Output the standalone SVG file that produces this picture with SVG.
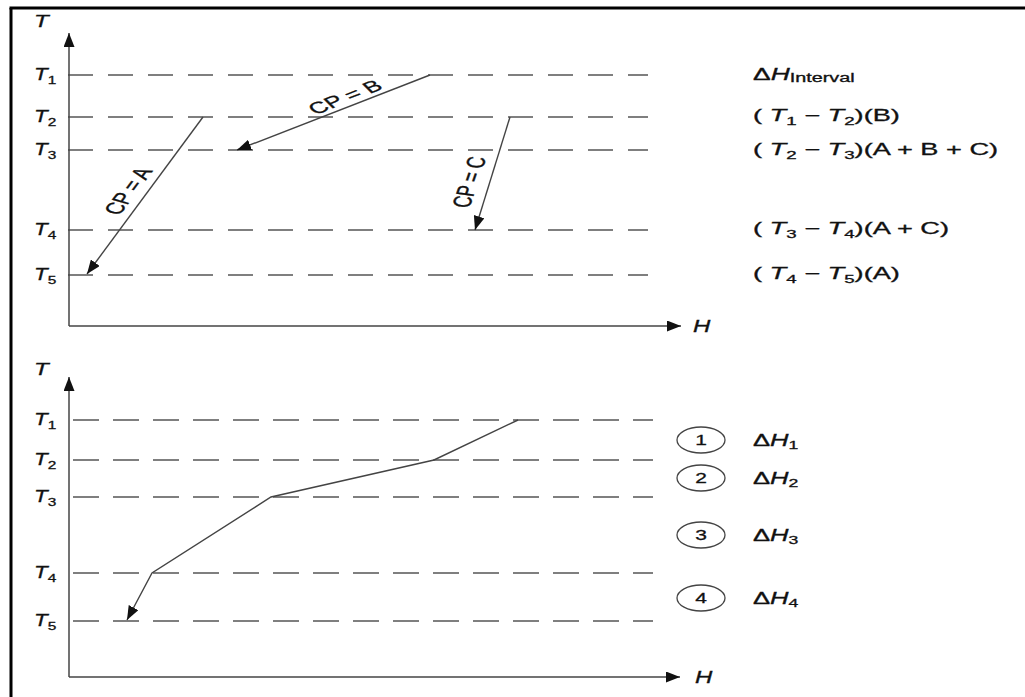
<svg xmlns="http://www.w3.org/2000/svg" width="1025" height="697" viewBox="0 0 1025 697">
<style>
text { font-family: "Liberation Sans", Arial, Helvetica, sans-serif; font-size: 16px; fill: #111; stroke: #111; stroke-width: 0.3; }
.it { font-style: italic; }
.sub { font-size: 11px; }
.cp { font-size: 16px; }
.num { font-size: 15px; text-anchor: middle; }
.dash { stroke: #555; stroke-width: 1.4; fill: none; }
.axis { stroke: #444; stroke-width: 1.5; fill: none; }
.flow { stroke: #444; stroke-width: 1.4; fill: none; }
.border { stroke: #000; stroke-width: 3; }
.circ { fill: #fff; stroke: #444; stroke-width: 1.3; }
</style>
<defs>
<marker id="ah" markerUnits="userSpaceOnUse" markerWidth="15" markerHeight="11" refX="14" refY="5.5" orient="auto">
<path d="M0,0 L14,5.5 L0,11 z" fill="#111"/>
</marker>
</defs>

<g id="frame">
<line class="border" x1="9.5" y1="8" x2="1025" y2="8"/>
<line class="border" x1="11" y1="8" x2="11" y2="697"/>
</g>

<g id="top-chart">
<g id="top-gridlines">
<line class="dash" x1="68" y1="75" x2="648" y2="75" stroke-dasharray="25 15"/>
<line class="dash" x1="68" y1="117" x2="648" y2="117" stroke-dasharray="25 15"/>
<line class="dash" x1="68" y1="150" x2="648" y2="150" stroke-dasharray="25 15"/>
<line class="dash" x1="68" y1="230" x2="648" y2="230" stroke-dasharray="25 15"/>
<line class="dash" x1="68" y1="275" x2="648" y2="275" stroke-dasharray="25 15"/>
</g>
<g id="top-axes">
<line class="axis" x1="69" y1="326" x2="69" y2="33" marker-end="url(#ah)"/>
<line class="axis" x1="69" y1="326" x2="681" y2="326" marker-end="url(#ah)"/>
<text class="it" transform="translate(34,27) scale(1.5 1)">T</text>
<text class="it" transform="translate(693,332) scale(1.5 1)">H</text>
</g>
<g id="top-tlabels">
<text transform="translate(34,80) scale(1.4 1)"><tspan class="it">T</tspan><tspan class="sub" dy="4">1</tspan></text>
<text transform="translate(34,122) scale(1.4 1)"><tspan class="it">T</tspan><tspan class="sub" dy="4">2</tspan></text>
<text transform="translate(34,155) scale(1.4 1)"><tspan class="it">T</tspan><tspan class="sub" dy="4">3</tspan></text>
<text transform="translate(34,235) scale(1.4 1)"><tspan class="it">T</tspan><tspan class="sub" dy="4">4</tspan></text>
<text transform="translate(34,280) scale(1.4 1)"><tspan class="it">T</tspan><tspan class="sub" dy="4">5</tspan></text>
</g>
<g id="top-streams">
<line class="flow" x1="203" y1="117" x2="87" y2="274" marker-end="url(#ah)"/>
<line class="flow" x1="430" y1="75" x2="237" y2="150" marker-end="url(#ah)"/>
<line class="flow" x1="510" y1="117" x2="475" y2="230" marker-end="url(#ah)"/>
<text class="cp" text-anchor="middle" dy="0.35em" transform="translate(128,191) scale(1.6 1) rotate(-65)">CP = A</text>
<text class="cp" text-anchor="middle" dy="0.35em" transform="translate(345,97) scale(1.6 1) rotate(-31.8)">CP = B</text>
<text class="cp" text-anchor="middle" dy="0.35em" transform="translate(469,182) scale(1.6 1) rotate(-78)">CP = C</text>
</g>
<g id="top-intervals">
<text transform="translate(753,80) scale(1.65 1)">Δ<tspan class="it">H</tspan><tspan font-size="12" dy="2">Interval</tspan></text>
<text transform="translate(753,121) scale(1.7 1)">( <tspan class="it">T</tspan><tspan class="sub" dy="4">1</tspan><tspan dy="-4"> − </tspan><tspan class="it">T</tspan><tspan class="sub" dy="4">2</tspan><tspan dy="-4">)(B)</tspan></text>
<text transform="translate(753,155) scale(1.7 1)">( <tspan class="it">T</tspan><tspan class="sub" dy="4">2</tspan><tspan dy="-4"> − </tspan><tspan class="it">T</tspan><tspan class="sub" dy="4">3</tspan><tspan dy="-4">)(A + B + C)</tspan></text>
<text transform="translate(753,234) scale(1.7 1)">( <tspan class="it">T</tspan><tspan class="sub" dy="4">3</tspan><tspan dy="-4"> − </tspan><tspan class="it">T</tspan><tspan class="sub" dy="4">4</tspan><tspan dy="-4">)(A + C)</tspan></text>
<text transform="translate(753,279) scale(1.7 1)">( <tspan class="it">T</tspan><tspan class="sub" dy="4">4</tspan><tspan dy="-4"> − </tspan><tspan class="it">T</tspan><tspan class="sub" dy="4">5</tspan><tspan dy="-4">)(A)</tspan></text>
</g>
</g>

<g id="bottom-chart">
<g id="bottom-gridlines">
<line class="dash" x1="73" y1="420" x2="653" y2="420" stroke-dasharray="26 14"/>
<line class="dash" x1="73" y1="460" x2="653" y2="460" stroke-dasharray="26 14"/>
<line class="dash" x1="73" y1="497" x2="653" y2="497" stroke-dasharray="26 14"/>
<line class="dash" x1="73" y1="573" x2="653" y2="573" stroke-dasharray="26 14"/>
<line class="dash" x1="73" y1="621" x2="653" y2="621" stroke-dasharray="26 14"/>
</g>
<g id="bottom-axes">
<line class="axis" x1="69" y1="677" x2="69" y2="377" marker-end="url(#ah)"/>
<line class="axis" x1="69" y1="677" x2="680" y2="677" marker-end="url(#ah)"/>
<text class="it" transform="translate(34,375) scale(1.5 1)">T</text>
<text class="it" transform="translate(695,683) scale(1.5 1)">H</text>
</g>
<g id="bottom-tlabels">
<text transform="translate(34,425) scale(1.4 1)"><tspan class="it">T</tspan><tspan class="sub" dy="4">1</tspan></text>
<text transform="translate(34,465) scale(1.4 1)"><tspan class="it">T</tspan><tspan class="sub" dy="4">2</tspan></text>
<text transform="translate(34,502) scale(1.4 1)"><tspan class="it">T</tspan><tspan class="sub" dy="4">3</tspan></text>
<text transform="translate(34,578) scale(1.4 1)"><tspan class="it">T</tspan><tspan class="sub" dy="4">4</tspan></text>
<text transform="translate(34,626) scale(1.4 1)"><tspan class="it">T</tspan><tspan class="sub" dy="4">5</tspan></text>
</g>
<g id="bottom-curve">
<polyline class="flow" points="518,420 434,460 271,497 152,573 127,620" marker-end="url(#ah)"/>
</g>
<g id="interval-1">
<ellipse class="circ" cx="701" cy="440" rx="24" ry="13"/>
<text class="num" transform="translate(701,445) scale(1.4 1)">1</text>
<text transform="translate(753,446) scale(1.6 1)">Δ<tspan class="it">H</tspan><tspan class="sub" dy="3">1</tspan></text>
</g>
<g id="interval-2">
<ellipse class="circ" cx="701" cy="478" rx="24" ry="13"/>
<text class="num" transform="translate(701,483) scale(1.4 1)">2</text>
<text transform="translate(753,484) scale(1.6 1)">Δ<tspan class="it">H</tspan><tspan class="sub" dy="3">2</tspan></text>
</g>
<g id="interval-3">
<ellipse class="circ" cx="701" cy="535" rx="24" ry="13"/>
<text class="num" transform="translate(701,540) scale(1.4 1)">3</text>
<text transform="translate(753,541) scale(1.6 1)">Δ<tspan class="it">H</tspan><tspan class="sub" dy="3">3</tspan></text>
</g>
<g id="interval-4">
<ellipse class="circ" cx="701" cy="598" rx="24" ry="13"/>
<text class="num" transform="translate(701,603) scale(1.4 1)">4</text>
<text transform="translate(753,604) scale(1.6 1)">Δ<tspan class="it">H</tspan><tspan class="sub" dy="3">4</tspan></text>
</g>
</g>
</svg>
